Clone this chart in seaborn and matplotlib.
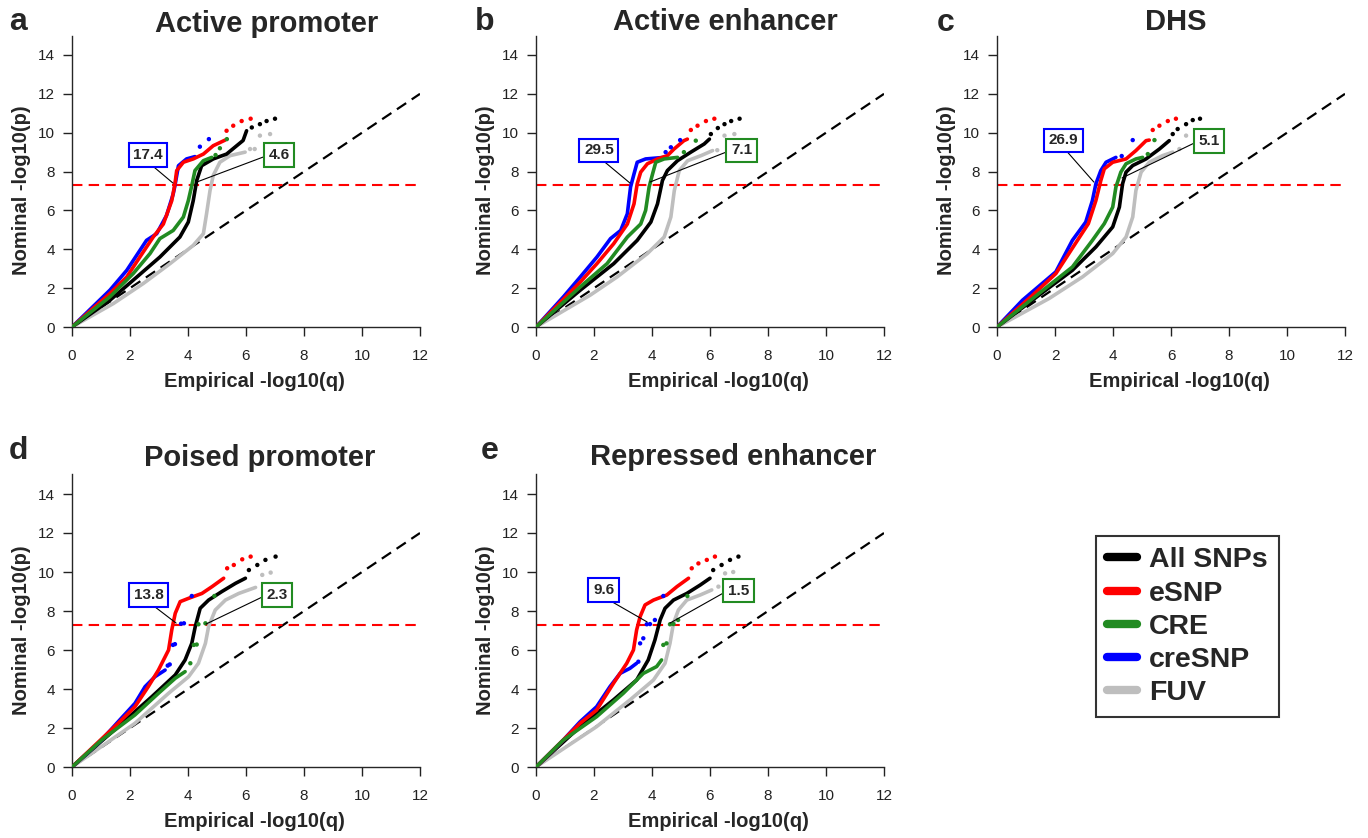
import pandas as pd
import matplotlib.pyplot as plt
import seaborn as sns
from matplotlib.lines import Line2D

# Series names and colours (R style palette)
series_names = ['All SNPs', 'eSNP', 'CRE', 'creSNP', 'FUV']
series_colors = {'All SNPs': '#000000', 'eSNP': '#ff0000', 'CRE': '#228b22',
                 'creSNP': '#0000ff', 'FUV': '#bebebe'}
draw_order = ['FUV', 'All SNPs', 'creSNP', 'eSNP', 'CRE']

panel_letters = ['a', 'b', 'c', 'd', 'e']
panel_titles = ['Active promoter', 'Active enhancer', 'DHS', 'Poised promoter', 'Repressed enhancer']
# fold enrichment labels: creSNP (blue box), CRE (green box)
cresnp_labels = ['17.4', '29.5', '26.9', '13.8', '9.6']
cre_labels = ['4.6', '7.1', '5.1', '2.3', '1.5']

x_ticks = [0, 2, 4, 6, 8, 10, 12]
y_ticks = [0, 2, 4, 6, 8, 10, 12, 14]
gws_line = 7.3  # -log10(5e-8)

# Values: (empirical -log10 q, nominal -log10 p)
active_promoter_lines = {
    'All SNPs': [(0, 0), (1.31, 1.38), (2.11, 2.41), (3.03, 3.6), (3.72, 4.63), (4.01, 5.4), (4.18, 6.5),
                 (4.3, 7.54), (4.47, 8.3), (4.87, 8.65), (5.33, 8.9), (5.9, 9.6), (6.02, 10.1)],
    'eSNP': [(0, 0), (1.31, 1.73), (1.89, 2.58), (2.34, 3.6), (2.8, 4.63), (3.15, 5.3), (3.44, 6.5),
             (3.55, 7.37), (3.61, 8.05), (3.84, 8.48), (4.18, 8.65), (4.53, 8.9), (4.87, 9.33), (5.28, 9.62)],
    'CRE': [(0, 0), (1.31, 1.56), (2.11, 2.75), (2.69, 3.78), (3.03, 4.55), (3.49, 4.97), (3.84, 5.66),
            (4.01, 6.5), (4.13, 7.28), (4.24, 8.05), (4.53, 8.56), (4.82, 8.73)],
    'creSNP': [(0, 0), (1.31, 1.9), (1.89, 2.92), (2.57, 4.46), (2.92, 4.8), (3.26, 5.74), (3.49, 6.85),
               (3.55, 7.28), (3.67, 8.3), (3.95, 8.65), (4.24, 8.77)],
    'FUV': [(0, 0), (1.43, 1.21), (2.46, 2.24), (3.38, 3.26), (4.18, 4.2), (4.53, 4.8), (4.64, 5.83),
            (4.76, 7.03), (4.87, 7.8), (5.1, 8.48), (5.45, 8.82), (5.97, 9.0)],
}
active_promoter_dots = {
    'All SNPs': [(6.2, 10.27), (6.48, 10.44), (6.71, 10.6), (7.0, 10.72)],
    'eSNP': [(5.33, 10.1), (5.56, 10.36), (5.85, 10.6), (6.16, 10.72)],
    'CRE': [(4.95, 8.85), (5.1, 9.2), (5.34, 9.67)],
    'creSNP': [(4.41, 9.28), (4.72, 9.67)],
    'FUV': [(6.14, 9.16), (6.3, 9.16), (6.48, 9.85), (6.83, 9.93)],
}

active_enhancer_lines = {
    'All SNPs': [(0, 0), (1.53, 1.9), (2.68, 3.26), (3.49, 4.46), (3.96, 5.4), (4.19, 6.34), (4.36, 7.54),
                 (4.53, 8.05), (4.88, 8.56), (5.34, 9.0), (5.8, 9.42), (5.98, 9.67)],
    'eSNP': [(0, 0), (1.53, 2.32), (2.1, 3.26), (2.68, 4.29), (3.15, 5.3), (3.38, 6.34), (3.49, 7.37),
             (3.61, 7.97), (3.84, 8.4), (4.19, 8.65), (4.53, 8.82), (4.76, 9.16), (5.1, 9.59), (5.22, 9.67)],
    'CRE': [(0, 0), (1.53, 2.07), (2.45, 3.26), (3.15, 4.63), (3.61, 5.3), (3.78, 6.0), (3.9, 7.2),
            (4.02, 7.88), (4.13, 8.48), (4.42, 8.65), (4.88, 8.73)],
    'creSNP': [(0, 0), (0.95, 1.56), (1.53, 2.58), (2.1, 3.6), (2.57, 4.55), (2.92, 4.97), (3.15, 5.83),
               (3.26, 7.2), (3.38, 7.88), (3.49, 8.48), (3.78, 8.65), (4.42, 8.73)],
    'FUV': [(0, 0), (1.87, 1.64), (2.8, 2.58), (3.84, 3.78), (4.42, 4.63), (4.65, 5.66), (4.77, 7.03),
            (4.94, 8.05), (5.23, 8.56), (5.69, 8.82), (6.09, 9.08)],
}
active_enhancer_dots = {
    'All SNPs': [(6.03, 9.93), (6.27, 10.24), (6.5, 10.44), (6.73, 10.6), (7.02, 10.72)],
    'eSNP': [(5.34, 10.14), (5.57, 10.36), (5.86, 10.6), (6.15, 10.72)],
    'CRE': [(5.1, 9.0), (5.51, 9.59)],
    'creSNP': [(4.47, 9.0), (4.65, 9.25), (4.97, 9.62)],
    'FUV': [(6.25, 9.1), (6.5, 9.85), (6.84, 9.93)],
}

dhs_lines = {
    'All SNPs': [(0, 0), (1.45, 1.64), (2.6, 2.92), (3.41, 4.12), (3.99, 5.15), (4.22, 6.17), (4.33, 7.37),
                 (4.45, 7.97), (4.68, 8.31), (5.14, 8.65), (5.6, 9.16), (5.94, 9.59)],
    'eSNP': [(0, 0), (1.2, 1.6), (2.03, 2.75), (2.7, 4.29), (3.15, 5.32), (3.41, 6.51), (3.58, 7.54),
             (3.7, 8.14), (3.99, 8.48), (4.45, 8.65), (4.79, 9.08), (5.14, 9.59), (5.25, 9.62)],
    'CRE': [(0, 0), (1.45, 1.73), (2.6, 3.09), (3.29, 4.46), (3.7, 5.32), (3.99, 6.17), (4.1, 7.2),
            (4.27, 7.97), (4.45, 8.4), (4.79, 8.65), (5.02, 8.73)],
    'creSNP': [(0, 0), (0.88, 1.38), (2.03, 2.84), (2.6, 4.46), (3.06, 5.4), (3.29, 6.51), (3.41, 7.37),
               (3.58, 8.05), (3.76, 8.48), (4.1, 8.73)],
    'FUV': [(0, 0), (1.8, 1.47), (2.95, 2.58), (3.99, 3.78), (4.45, 4.63), (4.68, 5.66), (4.79, 7.03),
            (4.97, 7.97), (5.25, 8.48), (5.71, 8.82), (6.06, 9.0)],
}
dhs_dots = {
    'All SNPs': [(6.06, 9.93), (6.23, 10.19), (6.52, 10.44), (6.75, 10.65), (7.0, 10.72)],
    'eSNP': [(5.37, 10.14), (5.6, 10.36), (5.89, 10.6), (6.17, 10.72)],
    'CRE': [(5.2, 8.9), (5.43, 9.62)],
    'creSNP': [(4.3, 8.8), (4.68, 9.62)],
    'FUV': [(6.29, 9.16), (6.52, 9.85), (6.87, 9.93)],
}

poised_promoter_lines = {
    'All SNPs': [(0, 0), (1.59, 2.07), (2.75, 3.6), (3.56, 4.72), (3.9, 5.49), (4.13, 6.34), (4.25, 7.2),
                 (4.42, 8.14), (4.71, 8.56), (5.17, 9.0), (5.64, 9.42), (5.98, 9.68)],
    'eSNP': [(0, 0), (1.59, 2.24), (2.17, 3.09), (2.63, 4.12), (2.98, 4.97), (3.33, 6.0), (3.44, 7.03),
             (3.56, 7.88), (3.73, 8.48), (4.02, 8.65), (4.48, 8.9), (4.83, 9.25), (5.23, 9.68)],
    'CRE': [(0, 0), (1.02, 1.38), (2.17, 2.67), (2.98, 3.78), (3.56, 4.55), (3.9, 4.89)],
    'creSNP': [(0, 0), (1.02, 1.38), (1.59, 2.32), (2.17, 3.26), (2.52, 4.12), (2.86, 4.63), (3.21, 4.97)],
    'FUV': [(0, 0), (2.17, 2.24), (3.33, 3.78), (4.02, 4.63), (4.36, 5.32), (4.6, 6.34), (4.71, 7.2),
            (4.94, 8.05), (5.29, 8.56), (5.75, 8.9), (6.33, 9.21)],
}
poised_promoter_dots = {
    'All SNPs': [(6.1, 10.1), (6.39, 10.36), (6.67, 10.62), (7.02, 10.79)],
    'eSNP': [(5.35, 10.19), (5.58, 10.36), (5.87, 10.65), (6.16, 10.79)],
    'CRE': [(4.08, 5.32), (4.2, 6.26), (4.3, 6.28), (4.36, 7.32), (4.6, 7.37), (4.91, 8.77)],
    'creSNP': [(3.3, 5.2), (3.37, 5.26), (3.48, 6.26), (3.55, 6.3), (3.76, 7.35), (3.86, 7.37), (4.13, 8.77)],
    'FUV': [(6.56, 9.85), (6.85, 9.97)],
}

repressed_enhancer_lines = {
    'All SNPs': [(0, 0), (1.52, 2.07), (2.67, 3.44), (3.47, 4.46), (3.87, 5.49), (4.1, 6.51), (4.28, 7.54),
                 (4.45, 8.14), (4.74, 8.56), (5.2, 8.9), (5.66, 9.33), (6.0, 9.68)],
    'eSNP': [(0, 0), (1.52, 2.24), (2.09, 2.92), (2.67, 4.29), (3.13, 5.32), (3.36, 6.0), (3.47, 7.03),
             (3.59, 7.71), (3.76, 8.31), (4.05, 8.56), (4.51, 8.82), (4.86, 9.25), (5.26, 9.68)],
    'CRE': [(0, 0), (0.94, 1.38), (2.09, 2.58), (3.01, 3.78), (3.7, 4.8), (4.16, 5.15), (4.33, 5.49)],
    'creSNP': [(0, 0), (0.94, 1.38), (1.52, 2.32), (2.09, 3.09), (2.55, 4.12), (2.9, 4.8), (3.24, 5.06),
               (3.47, 5.32)],
    'FUV': [(0, 0), (2.09, 2.07), (3.24, 3.44), (4.05, 4.46), (4.45, 5.32), (4.62, 6.34), (4.74, 7.37),
            (4.91, 8.05), (5.2, 8.56), (5.66, 8.82), (6.06, 9.08)],
}
repressed_enhancer_dots = {
    'All SNPs': [(6.11, 10.1), (6.4, 10.36), (6.69, 10.62), (6.98, 10.79)],
    'eSNP': [(5.37, 10.19), (5.6, 10.44), (5.89, 10.62), (6.17, 10.79)],
    'CRE': [(4.39, 6.26), (4.5, 6.34), (4.62, 7.32), (4.74, 7.33), (4.9, 7.54), (5.22, 8.77)],
    'creSNP': [(3.53, 5.4), (3.59, 6.34), (3.7, 6.6), (3.82, 7.32), (3.93, 7.33), (4.1, 7.54), (4.39, 8.77)],
    'FUV': [(6.29, 9.25), (6.52, 9.93), (6.8, 10.0)],
}

panel_lines = [active_promoter_lines, active_enhancer_lines, dhs_lines,
               poised_promoter_lines, repressed_enhancer_lines]
panel_dots = [active_promoter_dots, active_enhancer_dots, dhs_dots,
              poised_promoter_dots, repressed_enhancer_dots]

# annotation box centres and line ends (data coords)
cresnp_box = [(2.62, 8.85), (2.17, 9.1), (2.29, 9.6), (2.64, 8.82), (2.33, 9.08)]
cresnp_end = [(3.48, 7.41), (3.24, 7.41), (3.34, 7.46), (3.59, 7.38), (3.83, 7.44)]
cre_box = [(7.14, 8.85), (7.09, 9.1), (7.31, 9.57), (7.07, 8.82), (6.98, 9.05)]
cre_end = [(4.3, 7.46), (3.93, 7.46), (4.31, 7.67), (4.62, 7.33), (4.62, 7.38)]


def to_frame(d):
    rows = []
    for name, pts in d.items():
        for x, y in pts:
            rows.append({'series': name, 'x': x, 'y': y})
    return pd.DataFrame(rows)


sns.set_style('ticks')
plt.rcParams['font.family'] = ['Liberation Sans', 'DejaVu Sans']

W, H = 1368, 838
fig = plt.figure(figsize=(W / 100, H / 100), dpi=100)

# layout in pixels: axes origin (left x, y of zero), y px per unit
axes_px = [(72, 327, 19.43), (536, 327, 19.43), (997, 327, 19.43),
           (72, 767, 19.5), (536, 767, 19.5)]
title_px = [(267, 32), (725, 30), (1176, 30), (260, 466), (733, 465)]
letter_px = [(9, 30), (475, 30), (937, 31), (9, 459), (481, 459)]

for i in range(5):
    left, y0, ppu = axes_px[i]
    ax = fig.add_axes([left / W, (H - y0) / H, 348 / W, 15 * ppu / H])

    line_df = to_frame(panel_lines[i])
    dot_df = to_frame(panel_dots[i])

    ax.plot([0, 12], [0, 12], color='black', lw=1.6, dashes=(5, 3), zorder=1)
    ax.axhline(gws_line, color='#ff0000', lw=1.5, dashes=(5, 3), zorder=1)

    sns.lineplot(data=line_df, x='x', y='y', hue='series', hue_order=draw_order,
                 palette=series_colors, sort=False, estimator=None, lw=2.6,
                 legend=False, ax=ax, zorder=3)
    sns.scatterplot(data=dot_df, x='x', y='y', hue='series', hue_order=draw_order,
                    palette=series_colors, s=10, linewidth=0, legend=False, ax=ax, zorder=3)

    ax.set_xlim(0, 12)
    ax.set_ylim(0, 15)
    ax.set_xticks(x_ticks)
    ax.set_yticks(y_ticks)
    ax.spines['top'].set_visible(False)
    ax.spines['right'].set_visible(False)
    ax.spines['bottom'].set_bounds(0, 12)
    ax.spines['left'].set_linewidth(1.0)
    ax.spines['bottom'].set_linewidth(1.0)
    ax.tick_params(length=6.5, width=1.0, labelsize=11, colors='#222222')
    ax.tick_params(axis='x', pad=9)
    ax.tick_params(axis='y', pad=6)
    ax.set_xlabel('')
    ax.set_ylabel('')

    ax.text(0.523, -0.188, 'Empirical -log10(q)', transform=ax.transAxes, ha='center', va='center',
            fontsize=14.5, fontweight='bold')
    ax.text(-0.144, 0.469, 'Nominal -log10(p)', transform=ax.transAxes, ha='center', va='center',
            fontsize=14.5, fontweight='bold', rotation=90)

    tx, ty = title_px[i]
    fig.text(tx / W, 1 - ty / H, panel_titles[i], ha='center', va='baseline',
             fontsize=21, fontweight='bold')
    lx, ly = letter_px[i]
    fig.text(lx / W, 1 - ly / H, panel_letters[i], ha='left', va='baseline',
             fontsize=23, fontweight='bold')

    ax.annotate(cresnp_labels[i], xy=cresnp_end[i], xytext=cresnp_box[i], ha='center', va='center',
                fontsize=11, fontweight='bold',
                bbox=dict(boxstyle='square,pad=0.3', fc='white', ec='#0000ff', lw=1.5),
                arrowprops=dict(arrowstyle='-', color='black', lw=0.8, relpos=(0.5, 0),
                                shrinkA=0, shrinkB=0), zorder=5)
    ax.annotate(cre_labels[i], xy=cre_end[i], xytext=cre_box[i], ha='center', va='center',
                fontsize=11, fontweight='bold',
                bbox=dict(boxstyle='square,pad=0.3', fc='white', ec='#228b22', lw=1.5),
                arrowprops=dict(arrowstyle='-', color='black', lw=0.8, relpos=(0, 0.5),
                                shrinkA=0, shrinkB=0), zorder=5)

handles = [Line2D([0], [0], color=series_colors[n], lw=6) for n in series_names]
leg = fig.legend(handles, series_names, loc='upper left', bbox_to_anchor=(1096 / W, 1 - 536 / H),
                 frameon=True, fancybox=False, edgecolor='black', handlelength=1.05,
                 handletextpad=0.4, labelspacing=0.25, borderpad=0.4, borderaxespad=0,
                 prop={'size': 20.5, 'weight': 'bold'})
leg.get_frame().set_linewidth(1.5)

plt.savefig('out.png', dpi=100)
